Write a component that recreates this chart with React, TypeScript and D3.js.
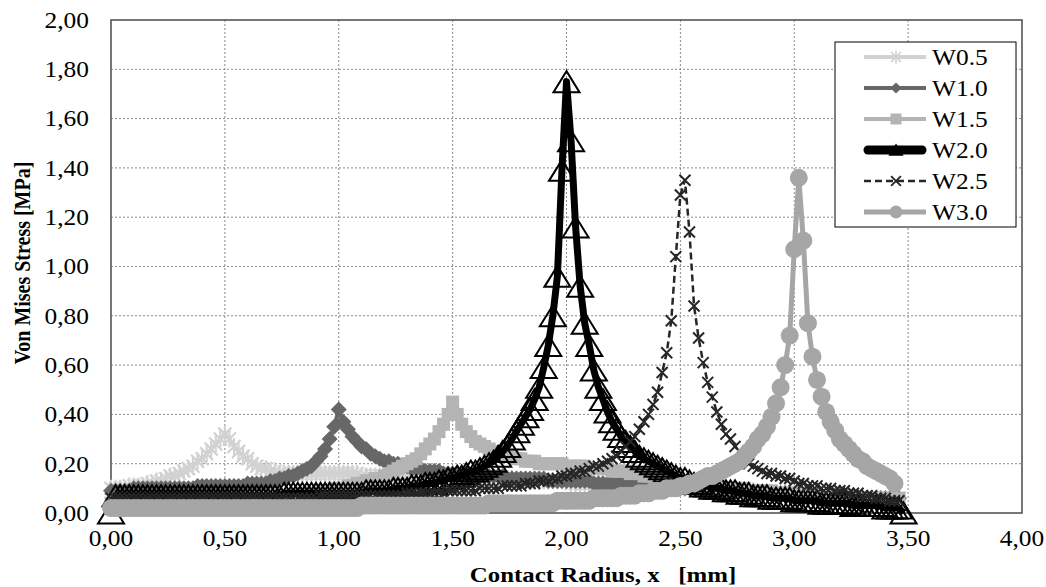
import React from 'react';
import * as d3 from 'd3';

// x positions of the data points (Contact Radius, mm)
const X_VALUES = [
  0, 0.02, 0.04, 0.06, 0.08, 0.1, 0.12, 0.14, 0.16, 0.18,
  0.2, 0.22, 0.24, 0.26, 0.28, 0.3, 0.32, 0.34, 0.36, 0.38,
  0.4, 0.42, 0.44, 0.46, 0.48, 0.5, 0.52, 0.54, 0.56, 0.58,
  0.6, 0.62, 0.64, 0.66, 0.68, 0.7, 0.72, 0.74, 0.76, 0.78,
  0.8, 0.82, 0.84, 0.86, 0.88, 0.9, 0.92, 0.94, 0.96, 0.98,
  1.0, 1.02, 1.04, 1.06, 1.08, 1.1, 1.12, 1.14, 1.16, 1.18,
  1.2, 1.22, 1.24, 1.26, 1.28, 1.3, 1.32, 1.34, 1.36, 1.38,
  1.4, 1.42, 1.44, 1.46, 1.48, 1.5, 1.52, 1.54, 1.56, 1.58,
  1.6, 1.62, 1.64, 1.66, 1.68, 1.7, 1.72, 1.74, 1.76, 1.78,
  1.8, 1.82, 1.84, 1.86, 1.88, 1.9, 1.92, 1.94, 1.96, 1.98,
  2.0, 2.02, 2.04, 2.06, 2.08, 2.1, 2.12, 2.14, 2.16, 2.18,
  2.2, 2.22, 2.24, 2.26, 2.28, 2.3, 2.32, 2.34, 2.36, 2.38,
  2.4, 2.42, 2.44, 2.46, 2.48, 2.5, 2.52, 2.54, 2.56, 2.58,
  2.6, 2.62, 2.64, 2.66, 2.68, 2.7, 2.72, 2.74, 2.76, 2.78,
  2.8, 2.82, 2.84, 2.86, 2.88, 2.9, 2.92, 2.94, 2.96, 2.98,
  3.0, 3.02, 3.04, 3.06, 3.08, 3.1, 3.12, 3.14, 3.16, 3.18,
  3.2, 3.22, 3.24, 3.26, 3.28, 3.3, 3.32, 3.34, 3.36, 3.38,
  3.4, 3.42, 3.44, 3.46, 3.48,
];

const X_TICKS = [0, 0.5, 1, 1.5, 2, 2.5, 3, 3.5, 4];
const Y_TICKS = [0, 0.2, 0.4, 0.6, 0.8, 1.0, 1.2, 1.4, 1.6, 1.8, 2.0];

const SERIES_NAMES = ['W0.5', 'W1.0', 'W1.5', 'W2.0', 'W2.5', 'W3.0'];

const W05 = [
  0.10, 0.10, 0.10, 0.10, 0.11, 0.11, 0.11, 0.11, 0.12, 0.12,
  0.13, 0.13, 0.14, 0.15, 0.15, 0.16, 0.17, 0.18, 0.19, 0.21,
  0.22, 0.24, 0.26, 0.28, 0.30, 0.32, 0.30, 0.27, 0.25, 0.23,
  0.22, 0.20, 0.19, 0.18, 0.18, 0.17, 0.17, 0.16, 0.16, 0.16,
  0.16, 0.16, 0.16, 0.16, 0.16, 0.16, 0.16, 0.16, 0.16, 0.16,
  0.16, 0.16, 0.16, 0.16, 0.16, 0.15, 0.15, 0.15, 0.15, 0.15,
  0.15, 0.15, 0.15, 0.15, 0.15, 0.15, 0.15, 0.15, 0.15, 0.15,
  0.15, 0.15, 0.15, 0.15, 0.15, 0.14, 0.14, 0.14, 0.14, 0.14,
  0.14, 0.14, 0.14, 0.14, 0.14, 0.14, 0.14, 0.14, 0.14, 0.13,
  0.13, 0.13, 0.13, 0.13, 0.13, 0.13, 0.13, 0.13, 0.13, 0.13,
  0.13, 0.12, 0.12, 0.12, 0.12, 0.12, 0.12, 0.12, 0.12, 0.12,
  0.12, 0.12, 0.11, 0.11, 0.11, 0.11, 0.11, 0.11, 0.11, 0.11,
  0.11, 0.11, 0.11, 0.10, 0.10, 0.10, 0.10, 0.10, 0.10, 0.10,
  0.10, 0.10, 0.10, 0.09, 0.09, 0.09, 0.09, 0.09, 0.09, 0.09,
  0.09, 0.09, 0.08, 0.08, 0.08, 0.08, 0.08, 0.08, 0.08, 0.08,
  0.08, 0.08, 0.07, 0.07, 0.07, 0.07, 0.07, 0.07, 0.07, 0.07,
  0.07, 0.07, 0.06, 0.06, 0.06, 0.06, 0.06, 0.06, 0.06, 0.06,
  0.06, 0.06, 0.06, 0.06,
];

const W10 = [
  0.09, 0.09, 0.09, 0.09, 0.09, 0.10, 0.10, 0.10, 0.10, 0.10,
  0.10, 0.10, 0.10, 0.10, 0.10, 0.10, 0.10, 0.10, 0.10, 0.11,
  0.11, 0.11, 0.11, 0.11, 0.11, 0.11, 0.11, 0.11, 0.11, 0.11,
  0.12, 0.12, 0.12, 0.12, 0.12, 0.13, 0.13, 0.14, 0.14, 0.15,
  0.15, 0.16, 0.17, 0.18, 0.19, 0.21, 0.23, 0.26, 0.30, 0.35,
  0.42, 0.37, 0.34, 0.31, 0.29, 0.27, 0.26, 0.24, 0.23, 0.22,
  0.21, 0.21, 0.20, 0.20, 0.19, 0.19, 0.18, 0.18, 0.18, 0.17,
  0.17, 0.17, 0.17, 0.16, 0.16, 0.16, 0.16, 0.16, 0.16, 0.15,
  0.15, 0.15, 0.15, 0.15, 0.15, 0.15, 0.15, 0.14, 0.14, 0.14,
  0.14, 0.14, 0.14, 0.14, 0.14, 0.14, 0.13, 0.13, 0.13, 0.13,
  0.13, 0.13, 0.13, 0.13, 0.13, 0.13, 0.12, 0.12, 0.12, 0.12,
  0.12, 0.12, 0.12, 0.12, 0.12, 0.11, 0.11, 0.11, 0.11, 0.11,
  0.11, 0.11, 0.11, 0.11, 0.10, 0.10, 0.10, 0.10, 0.10, 0.10,
  0.10, 0.10, 0.09, 0.09, 0.09, 0.09, 0.09, 0.09, 0.09, 0.09,
  0.09, 0.08, 0.08, 0.08, 0.08, 0.08, 0.08, 0.08, 0.08, 0.08,
  0.07, 0.07, 0.07, 0.07, 0.07, 0.07, 0.07, 0.07, 0.07, 0.07,
  0.07, 0.07, 0.06, 0.06, 0.06, 0.06, 0.06, 0.06, 0.06, 0.06,
  0.06, 0.06, 0.06, 0.06,
];

const W15 = [
  0.04, 0.04, 0.04, 0.04, 0.04, 0.04, 0.04, 0.04, 0.04, 0.04,
  0.04, 0.04, 0.04, 0.05, 0.05, 0.05, 0.05, 0.05, 0.05, 0.05,
  0.05, 0.05, 0.05, 0.05, 0.05, 0.05, 0.06, 0.06, 0.06, 0.06,
  0.06, 0.06, 0.06, 0.06, 0.06, 0.06, 0.07, 0.07, 0.07, 0.07,
  0.07, 0.07, 0.08, 0.08, 0.08, 0.08, 0.09, 0.09, 0.09, 0.10,
  0.10, 0.10, 0.11, 0.11, 0.12, 0.12, 0.13, 0.13, 0.14, 0.14,
  0.15, 0.16, 0.17, 0.18, 0.19, 0.20, 0.21, 0.22, 0.24, 0.26,
  0.28, 0.30, 0.33, 0.36, 0.40, 0.45, 0.40, 0.36, 0.33, 0.31,
  0.29, 0.28, 0.27, 0.26, 0.25, 0.24, 0.24, 0.23, 0.23, 0.22,
  0.22, 0.21, 0.21, 0.21, 0.20, 0.20, 0.20, 0.20, 0.20, 0.20,
  0.19, 0.19, 0.19, 0.19, 0.19, 0.18, 0.18, 0.18, 0.18, 0.18,
  0.17, 0.17, 0.17, 0.17, 0.16, 0.16, 0.16, 0.15, 0.15, 0.15,
  0.14, 0.14, 0.14, 0.13, 0.13, 0.13, 0.12, 0.12, 0.12, 0.12,
  0.11, 0.11, 0.11, 0.11, 0.10, 0.10, 0.10, 0.10, 0.10, 0.10,
  0.09, 0.09, 0.09, 0.09, 0.09, 0.09, 0.08, 0.08, 0.08, 0.08,
  0.08, 0.08, 0.08, 0.07, 0.07, 0.07, 0.07, 0.07, 0.07, 0.07,
  0.07, 0.07, 0.07, 0.06, 0.06, 0.06, 0.06, 0.06, 0.06, 0.06,
  0.06, 0.06, 0.06, 0.06,
];

const W20 = [
  0.00, 0.07, 0.07, 0.07, 0.07, 0.07, 0.07, 0.07, 0.07, 0.07,
  0.07, 0.07, 0.07, 0.07, 0.07, 0.07, 0.07, 0.07, 0.07, 0.07,
  0.07, 0.07, 0.07, 0.07, 0.07, 0.07, 0.07, 0.07, 0.07, 0.07,
  0.07, 0.07, 0.07, 0.07, 0.07, 0.07, 0.07, 0.07, 0.08, 0.08,
  0.08, 0.08, 0.08, 0.08, 0.08, 0.08, 0.08, 0.08, 0.08, 0.08,
  0.08, 0.08, 0.08, 0.08, 0.08, 0.08, 0.09, 0.09, 0.09, 0.09,
  0.09, 0.09, 0.10, 0.10, 0.10, 0.10, 0.11, 0.11, 0.11, 0.12,
  0.12, 0.12, 0.13, 0.13, 0.14, 0.14, 0.15, 0.15, 0.16, 0.17,
  0.17, 0.18, 0.19, 0.20, 0.21, 0.23, 0.25, 0.27, 0.30, 0.33,
  0.36, 0.39, 0.42, 0.46, 0.51, 0.59, 0.68, 0.80, 0.96, 1.39,
  1.75, 1.51, 1.16, 0.92, 0.77, 0.68, 0.58, 0.51, 0.46, 0.41,
  0.37, 0.34, 0.31, 0.29, 0.27, 0.25, 0.23, 0.22, 0.21, 0.20,
  0.19, 0.18, 0.17, 0.16, 0.15, 0.14, 0.14, 0.13, 0.12, 0.12,
  0.11, 0.11, 0.10, 0.10, 0.10, 0.09, 0.09, 0.09, 0.08, 0.08,
  0.08, 0.07, 0.07, 0.07, 0.07, 0.06, 0.06, 0.06, 0.06, 0.06,
  0.05, 0.05, 0.05, 0.05, 0.05, 0.05, 0.04, 0.04, 0.04, 0.04,
  0.04, 0.04, 0.04, 0.03, 0.03, 0.03, 0.03, 0.03, 0.03, 0.03,
  0.02, 0.02, 0.02, 0.02, 0.00,
];

const W25 = [
  0.06, 0.06, 0.06, 0.06, 0.06, 0.06, 0.06, 0.06, 0.06, 0.06,
  0.06, 0.06, 0.06, 0.06, 0.06, 0.06, 0.06, 0.06, 0.06, 0.06,
  0.06, 0.06, 0.06, 0.06, 0.06, 0.06, 0.06, 0.06, 0.06, 0.06,
  0.06, 0.06, 0.06, 0.06, 0.06, 0.06, 0.06, 0.06, 0.06, 0.06,
  0.06, 0.06, 0.06, 0.06, 0.06, 0.06, 0.07, 0.07, 0.07, 0.07,
  0.07, 0.07, 0.07, 0.07, 0.07, 0.07, 0.07, 0.07, 0.07, 0.07,
  0.07, 0.07, 0.07, 0.07, 0.07, 0.08, 0.08, 0.08, 0.08, 0.08,
  0.08, 0.08, 0.08, 0.08, 0.09, 0.09, 0.09, 0.09, 0.09, 0.09,
  0.09, 0.10, 0.10, 0.10, 0.10, 0.10, 0.11, 0.11, 0.11, 0.11,
  0.11, 0.12, 0.12, 0.12, 0.13, 0.13, 0.13, 0.14, 0.14, 0.15,
  0.15, 0.16, 0.16, 0.17, 0.17, 0.18, 0.19, 0.19, 0.20, 0.21,
  0.22, 0.23, 0.25, 0.27, 0.29, 0.31, 0.34, 0.37, 0.40, 0.44,
  0.49, 0.57, 0.65, 0.78, 1.04, 1.29, 1.35, 1.14, 0.84, 0.71,
  0.61, 0.53, 0.47, 0.41, 0.36, 0.32, 0.30, 0.27, 0.25, 0.22,
  0.20, 0.19, 0.18, 0.17, 0.16, 0.16, 0.15, 0.15, 0.14, 0.14,
  0.13, 0.12, 0.12, 0.11, 0.11, 0.11, 0.10, 0.10, 0.10, 0.09,
  0.09, 0.09, 0.08, 0.08, 0.08, 0.07, 0.07, 0.07, 0.06, 0.06,
  0.06, 0.05, 0.05, 0.05,
];

const W30 = [
  0.02, 0.02, 0.02, 0.02, 0.02, 0.02, 0.02, 0.02, 0.02, 0.02,
  0.02, 0.02, 0.02, 0.02, 0.02, 0.02, 0.02, 0.02, 0.02, 0.02,
  0.02, 0.02, 0.02, 0.02, 0.02, 0.02, 0.02, 0.02, 0.02, 0.02,
  0.02, 0.02, 0.02, 0.02, 0.02, 0.02, 0.02, 0.02, 0.02, 0.02,
  0.02, 0.02, 0.02, 0.02, 0.02, 0.02, 0.02, 0.02, 0.02, 0.02,
  0.02, 0.02, 0.02, 0.02, 0.02, 0.03, 0.03, 0.03, 0.03, 0.03,
  0.03, 0.03, 0.03, 0.03, 0.03, 0.03, 0.03, 0.03, 0.03, 0.03,
  0.03, 0.03, 0.03, 0.03, 0.03, 0.03, 0.03, 0.03, 0.03, 0.03,
  0.03, 0.03, 0.03, 0.04, 0.04, 0.04, 0.04, 0.04, 0.04, 0.04,
  0.04, 0.04, 0.04, 0.04, 0.04, 0.04, 0.04, 0.04, 0.05, 0.05,
  0.05, 0.05, 0.05, 0.05, 0.05, 0.05, 0.06, 0.06, 0.06, 0.06,
  0.06, 0.06, 0.07, 0.07, 0.07, 0.07, 0.08, 0.08, 0.08, 0.09,
  0.09, 0.09, 0.10, 0.10, 0.10, 0.11, 0.11, 0.12, 0.12, 0.13,
  0.14, 0.15, 0.15, 0.16, 0.17, 0.18, 0.19, 0.20, 0.21, 0.23,
  0.25, 0.27, 0.30, 0.32, 0.35, 0.39, 0.445, 0.51, 0.60, 0.72,
  1.07, 1.36, 1.105, 0.77, 0.634, 0.54, 0.472, 0.41, 0.37, 0.335,
  0.30, 0.28, 0.26, 0.24, 0.22, 0.21, 0.19, 0.18, 0.17, 0.16,
  0.15, 0.14, 0.12,
];

const SERIES_VALUES = [W05, W10, W15, W20, W25, W30];

type MarkerType = 'asterisk' | 'diamond' | 'square' | 'triangle' | 'x' | 'circle';

const STYLES: { color: string; width: number; dash?: string; marker: MarkerType }[] = [
  { color: '#d2d2d2', width: 4, marker: 'asterisk' },
  { color: '#676767', width: 4, marker: 'diamond' },
  { color: '#b4b4b4', width: 4, marker: 'square' },
  { color: '#000000', width: 7, marker: 'triangle' },
  { color: '#262626', width: 2.5, dash: '7,4', marker: 'x' },
  { color: '#a6a6a6', width: 5, marker: 'circle' },
];

const FONT = '"Liberation Serif", "Times New Roman", serif';
const SX = 1.13; // horizontal text stretch seen in the reference

const W = 1046;
const H = 587;
const M = { left: 111, right: 1022, top: 20, bottom: 513 };

function Marker({ type, color, cx, cy, k = 1 }: { type: MarkerType; color: string; cx: number; cy: number; k?: number }) {
  const t = `translate(${cx},${cy}) scale(${k})`;
  switch (type) {
    case 'asterisk': {
      const a = 6.5, b = 8.5;
      return <path transform={t} d={`M${-a},${-a}L${a},${a}M${-a},${a}L${a},${-a}M0,${-b}L0,${b}`} stroke={color} strokeWidth={2.2} fill="none" />;
    }
    case 'diamond': {
      const r = 8;
      return <path transform={t} d={`M0,${-r}L${r},0L0,${r}L${-r},0Z`} fill={color} />;
    }
    case 'square': {
      const s = 6.5;
      return <path transform={t} d={`M${-s},${-s}H${s}V${s}H${-s}Z`} fill={color} />;
    }
    case 'triangle': {
      const w = 13, h = 10.5;
      return <path transform={t} d={`M0,${-h}L${w},${h}L${-w},${h}Z`} stroke={color} strokeWidth={2 / k} fill="none" />;
    }
    case 'x': {
      const a = 5.5;
      return <path transform={t} d={`M${-a},${-a}L${a},${a}M${-a},${a}L${a},${-a}`} stroke={color} strokeWidth={2} fill="none" />;
    }
    case 'circle':
    default:
      return <circle transform={t} cx={0} cy={0} r={9} fill={color} />;
  }
}

const fmt = (v: number) => d3.format('.2f')(v).replace('.', ',');

export default function App() {
  const x = d3.scaleLinear().domain([0, 4]).range([M.left, M.right]);
  const y = d3.scaleLinear().domain([0, 2]).range([M.bottom, M.top]);

  const line = d3
    .line<[number, number]>()
    .x((d) => x(d[0]))
    .y((d) => y(d[1]));

  const legendX = 835, legendY = 42, legendW = 181, legendH = 185;
  const legendScale: Record<MarkerType, number> = { asterisk: 0.75, diamond: 0.7, square: 0.85, triangle: 0.45, x: 0.9, circle: 0.72 };

  return (
    <svg width={W} height={H} style={{ position: 'absolute', left: 0, top: 0, background: '#fff' }} fontFamily={FONT}>
      <rect x={0} y={0} width={W} height={H} fill="#fff" />
      {/* grid */}
      {Y_TICKS.slice(1, -1).map((t) => (
        <line key={'gy' + t} x1={M.left} x2={M.right} y1={y(t)} y2={y(t)} stroke="#8a8a8a" strokeWidth={1} strokeDasharray="2,2" />
      ))}
      {X_TICKS.slice(1, -1).map((t) => (
        <line key={'gx' + t} y1={M.top} y2={M.bottom} x1={x(t)} x2={x(t)} stroke="#8a8a8a" strokeWidth={1} strokeDasharray="2,2" />
      ))}
      <rect x={M.left} y={M.top} width={M.right - M.left} height={M.bottom - M.top} fill="none" stroke="#555" strokeWidth={1.6} />

      {/* series */}
      {SERIES_VALUES.map((vals, si) => {
        const st = STYLES[si];
        const pts: [number, number][] = vals.map((v, i) => [X_VALUES[i], v]);
        return (
          <g key={SERIES_NAMES[si]}>
            <path d={line(pts) || ''} fill="none" stroke={st.color} strokeWidth={st.width} strokeDasharray={st.dash} strokeLinejoin="round" />
            {pts.map((p, i) => (
              <Marker key={i} type={st.marker} color={st.color} cx={x(p[0])} cy={y(p[1])} />
            ))}
          </g>
        );
      })}

      {/* y tick labels */}
      {Y_TICKS.map((t) => (
        <text key={'yl' + t} transform={`translate(89,${y(t)}) scale(${SX},1)`} textAnchor="end" dy="0.35em" fontSize={22.5} fill="#000">
          {fmt(t)}
        </text>
      ))}
      {/* x tick labels */}
      {X_TICKS.map((t) => (
        <text key={'xl' + t} transform={`translate(${x(t)},546) scale(${SX},1)`} textAnchor="middle" fontSize={22.5} fill="#000">
          {fmt(t)}
        </text>
      ))}
      {/* axis titles */}
      <text transform={`translate(603,582) scale(${SX},1)`} textAnchor="middle" fontSize={22} fontWeight="bold" style={{ whiteSpace: 'pre' }}>
        {'Contact Radius, x   [mm]'}
      </text>
      <text transform={`translate(30,263) scale(${SX},1) rotate(-90)`} textAnchor="middle" fontSize={20} fontWeight="bold">
        Von Mises Stress [MPa]
      </text>

      {/* legend */}
      <rect x={legendX} y={legendY} width={legendW} height={legendH} fill="#fff" stroke="#000" strokeWidth={1} />
      {SERIES_NAMES.map((name, i) => {
        const st = STYLES[i];
        const cy = 57 + i * 31;
        const thick = st.marker === 'triangle';
        return (
          <g key={'lg' + name}>
            <line x1={thick ? 868 : 864} x2={thick ? 922 : 926} y1={cy} y2={cy} stroke={st.color} strokeWidth={thick ? 9 : st.width} strokeDasharray={st.dash} strokeLinecap={thick ? 'round' : 'butt'} />
            <Marker type={st.marker} color={st.color} cx={896} cy={cy} k={legendScale[st.marker]} />
            <text transform={`translate(932,${cy}) scale(${SX},1)`} dy="0.35em" fontSize={22.5} fill="#000">
              {name}
            </text>
          </g>
        );
      })}
    </svg>
  );
}
